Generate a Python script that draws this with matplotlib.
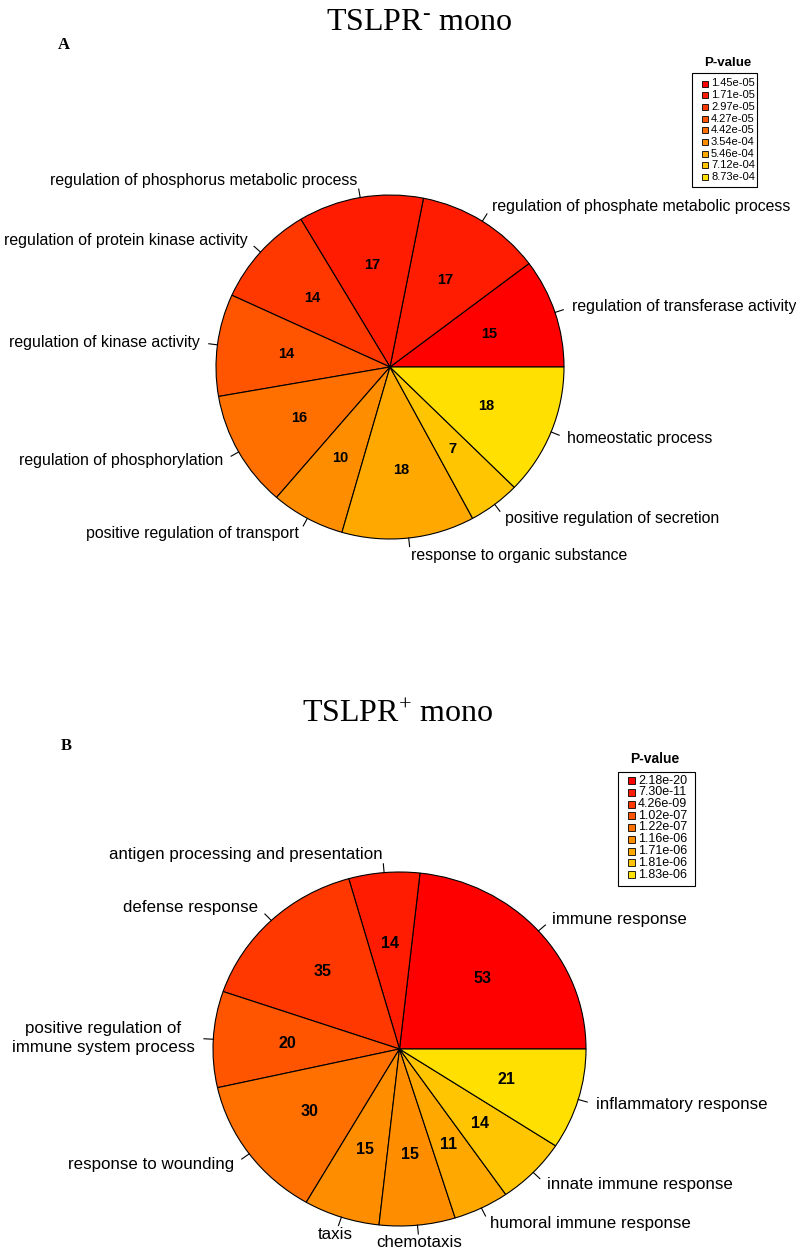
"""
GO term enrichment pies for TSLPR- and TSLPR+ monocytes.
Slice size = gene count, slice colour = enrichment P-value (red = most significant).
"""

import matplotlib
matplotlib.use("Agg")
import matplotlib.pyplot as plt
import numpy as np
from matplotlib.colors import LinearSegmentedColormap, to_hex
from matplotlib.patches import Rectangle

plt.rcParams["font.family"] = ["Liberation Sans", "DejaVu Sans"]
plt.rcParams["mathtext.fontset"] = "custom"
plt.rcParams["mathtext.rm"] = "Liberation Serif"
plt.rcParams["mathtext.default"] = "regular"


# ──────────────────────────────────────────────────────────────────────
#  Data
# ──────────────────────────────────────────────────────────────────────

terms_neg = [
    "regulation of transferase activity",
    "regulation of phosphate metabolic process",
    "regulation of phosphorus metabolic process",
    "regulation of protein kinase activity",
    "regulation of kinase activity",
    "regulation of phosphorylation",
    "positive regulation of transport",
    "response to organic substance",
    "positive regulation of secretion",
    "homeostatic process",
]
counts_neg = [15, 17, 17, 14, 14, 16, 10, 18, 7, 18]
pvals_neg = ["1.45e-05", "1.71e-05", "1.71e-05", "2.97e-05", "4.27e-05",
             "4.42e-05", "3.54e-04", "5.46e-04", "7.12e-04", "8.73e-04"]

terms_pos = [
    "immune response",
    "antigen processing and presentation",
    "defense response",
    "positive regulation of\nimmune system process",
    "response to wounding",
    "taxis",
    "chemotaxis",
    "humoral immune response",
    "innate immune response",
    "inflammatory response",
]
counts_pos = [53, 14, 35, 20, 30, 15, 15, 11, 14, 21]
pvals_pos = ["2.18e-20", "7.30e-11", "4.26e-09", "1.02e-07", "1.22e-07",
             "1.16e-06", "1.16e-06", "1.71e-06", "1.81e-06", "1.83e-06"]

# short labels under the pie that sit centred on their tick
centred_labels = {"taxis", "chemotaxis"}

W, H = 796, 1258
ramp = LinearSegmentedColormap.from_list("red_gold", ["#FF0000", "#FFE000"])


def unique_in_order(values):
    seen = []
    for v in values:
        if v not in seen:
            seen.append(v)
    return seen


def pie_panel(fig, centre, radii, counts, terms, pvals, label_fs, count_fs):
    """Pie in an axes sized so that data radius 1 == given pixel radii."""
    cx, cy = centre
    rx, ry = radii
    ax = fig.add_axes([(cx - rx) / W, 1 - (cy + ry) / H, 2 * rx / W, 2 * ry / H])

    levels = unique_in_order(pvals)
    palette = [to_hex(ramp(i / (len(levels) - 1))) for i in range(len(levels))]
    colors = [palette[levels.index(p)] for p in pvals]

    wedges, _ = ax.pie(counts, colors=colors, startangle=0, counterclock=True,
                       wedgeprops=dict(edgecolor="black", linewidth=0.8))
    ax.set_aspect("auto")
    ax.set_xlim(-1, 1)
    ax.set_ylim(-1, 1)
    ax.axis("off")

    for w, n, term in zip(wedges, counts, terms):
        w.set_clip_on(False)
        mid = np.deg2rad(0.5 * (w.theta1 + w.theta2))
        c, s = np.cos(mid), np.sin(mid)
        ax.text(0.6 * c, 0.6 * s, str(n), ha="center", va="center",
                fontsize=count_fs, fontweight="bold")
        ax.plot([c, 1.05 * c], [s, 1.05 * s], color="black", lw=0.8, clip_on=False)
        if term in centred_labels:
            ha = "center"
        else:
            ha = "left" if c >= 0 else "right"
        ax.text(1.1 * c, 1.1 * s, term, ha=ha, va="center",
                fontsize=label_fs, multialignment="center", linespacing=1.35)
    return palette, levels


def pvalue_legend(ax, box, title_xy, first_row, step, sq, text_x, fs, title_fs,
                  labels, colors):
    """Legend in pixel coordinates: framed list, title sitting above the frame."""
    x0, y0, x1, y1 = box
    ax.add_patch(Rectangle((x0, y0), x1 - x0, y1 - y0, fill=False,
                           edgecolor="black", linewidth=0.8))
    ax.text(*title_xy, "P-value", ha="center", va="center",
            fontsize=title_fs, fontweight="bold")
    sx = text_x - sq - 3
    for i, (lab, col) in enumerate(zip(labels, colors)):
        y = first_row + i * step
        ax.add_patch(Rectangle((sx, y - sq / 2), sq, sq, facecolor=col,
                               edgecolor="black", linewidth=0.6))
        ax.text(text_x, y, lab, ha="left", va="center", fontsize=fs)


fig = plt.figure(figsize=(W / 100, H / 100), dpi=100)
canvas = fig.add_axes([0, 0, 1, 1])
canvas.set_xlim(0, W)
canvas.set_ylim(H, 0)
canvas.axis("off")

# ── Panel A ──
canvas.text(419, 22, r"TSLPR$^{\text{-}}$ mono", ha="center", va="center",
            fontsize=23, family="Liberation Serif")
canvas.text(64, 45, "A", ha="center", va="center", fontsize=12,
            fontweight="bold", family="Liberation Serif")
pal_a, lev_a = pie_panel(fig, (390, 367), (174, 172), counts_neg, terms_neg,
                         pvals_neg, label_fs=11.4, count_fs=10.5)
pvalue_legend(canvas, (692, 73, 757, 187), (728, 63), 83.5, 11.7, 6, 711,
              8, 9.5, lev_a, pal_a)

# ── Panel B ──
canvas.text(398, 715, r"TSLPR$^{+}$ mono", ha="center", va="center",
            fontsize=23, family="Liberation Serif")
canvas.text(66, 746, "B", ha="center", va="center", fontsize=12,
            fontweight="bold", family="Liberation Serif")
pal_b, lev_b = pie_panel(fig, (399.5, 1049), (186.5, 177), counts_pos, terms_pos,
                         pvals_pos, label_fs=12.2, count_fs=11.5)
pvalue_legend(canvas, (618, 772, 695, 886), (655, 759), 780.5, 11.75, 7, 638,
              9, 10, lev_b, pal_b)

fig.savefig("out.png", dpi=100)
